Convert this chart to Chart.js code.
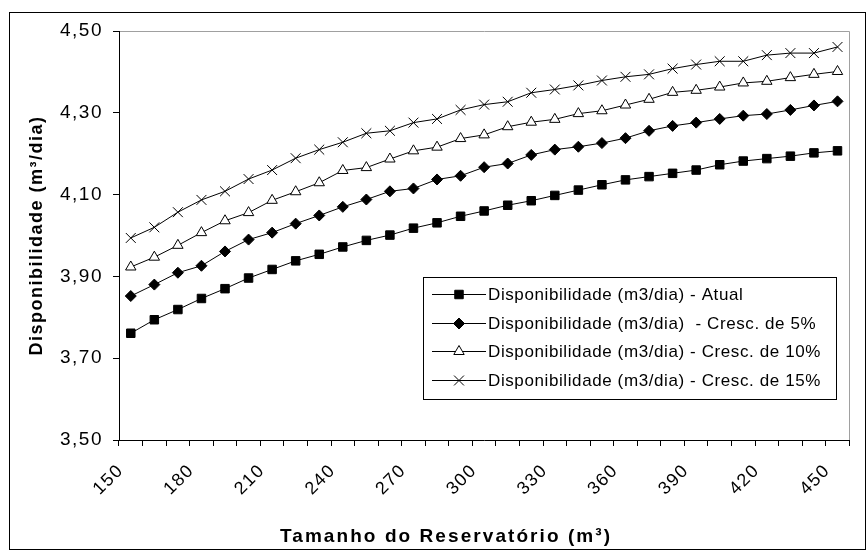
<!DOCTYPE html>
<html>
<head>
<meta charset="utf-8">
<script src="https://cdn.jsdelivr.net/npm/chart.js@4/dist/chart.umd.min.js"></script>
<style>
  html, body { margin: 0; padding: 0; background: #fff; }
  #wrap { position: relative; width: 867px; height: 551px; }
</style>
</head>
<body>
<div id="wrap"><canvas id="c" width="867" height="551"></canvas></div>
<script>
const categories = [150,160,170,180,190,200,210,220,230,240,250,260,270,280,290,300,310,320,330,340,350,360,370,380,390,400,410,420,430,440,450];
const atual   = [3.761,3.794,3.819,3.846,3.870,3.896,3.917,3.938,3.954,3.972,3.988,4.001,4.018,4.031,4.047,4.060,4.074,4.085,4.098,4.111,4.124,4.136,4.144,4.152,4.160,4.173,4.182,4.188,4.194,4.202,4.207];
const cresc5  = [3.852,3.880,3.909,3.926,3.961,3.990,4.007,4.029,4.049,4.070,4.088,4.108,4.115,4.137,4.146,4.167,4.176,4.197,4.210,4.217,4.226,4.238,4.256,4.268,4.276,4.285,4.293,4.297,4.307,4.318,4.328];
const cresc10 = [3.923,3.947,3.976,4.007,4.036,4.056,4.086,4.107,4.129,4.159,4.166,4.187,4.207,4.216,4.237,4.246,4.266,4.277,4.284,4.298,4.305,4.319,4.333,4.350,4.355,4.363,4.373,4.377,4.386,4.394,4.401];
const cresc15 = [3.994,4.020,4.057,4.087,4.108,4.138,4.160,4.189,4.210,4.228,4.250,4.256,4.276,4.285,4.307,4.320,4.327,4.349,4.357,4.367,4.379,4.388,4.394,4.408,4.418,4.426,4.426,4.441,4.446,4.446,4.461];
const seriesNames = [
  'Disponibilidade (m3/dia) - Atual',
  'Disponibilidade (m3/dia)  - Cresc. de 5%',
  'Disponibilidade (m3/dia) - Cresc. de 10%',
  'Disponibilidade (m3/dia) - Cresc. de 15%'
];
const xTickLabels = ['150','180','210','240','270','300','330','360','390','420','450'];
const yMin = 3.5, yMax = 4.5, yStep = 0.2;
const xTitle = 'Tamanho do Reservatório (m³)';
const yTitle = 'Disponibilidade (m³/dia)';

const FONT = "'Liberation Sans', Arial, sans-serif";

const styles = [
  { pointStyle: 'rect',     radius: 6,   bg: '#000' },
  { pointStyle: 'rectRot',  radius: 5.5, bg: '#000' },
  { pointStyle: 'triangle', radius: 6,   bg: '#fff' },
  { pointStyle: 'crossRot', radius: 7,   bg: '#000' }
];
const seriesData = [atual, cresc5, cresc10, cresc15];

const datasets = seriesData.map((d, i) => ({
  label: seriesNames[i],
  data: d,
  borderColor: '#000',
  borderWidth: 1,
  backgroundColor: styles[i].bg,
  pointStyle: styles[i].pointStyle,
  pointRadius: styles[i].radius,
  pointBackgroundColor: styles[i].bg,
  pointBorderColor: '#000',
  pointBorderWidth: 1,
  tension: 0,
  fill: false
}));

const frameAndBorder = {
  id: 'frameAndBorder',
  beforeDraw(chart) {
    const ctx = chart.ctx;
    const a = chart.chartArea;
    ctx.save();
    ctx.fillStyle = '#fff';
    ctx.fillRect(0, 0, chart.width, chart.height);
    ctx.strokeStyle = '#000';
    ctx.lineWidth = 1;
    ctx.strokeRect(9.5, 12.5, 856, 537);
    ctx.strokeStyle = '#a0a0a0';
    ctx.beginPath();
    ctx.moveTo(Math.round(a.left) + 0.5, Math.round(a.top) + 0.5);
    ctx.lineTo(Math.round(a.right) + 0.5, Math.round(a.top) + 0.5);
    ctx.lineTo(Math.round(a.right) + 0.5, Math.round(a.bottom) + 0.5);
    ctx.stroke();
    ctx.restore();
    try { ctx.letterSpacing = '1.5px'; } catch (e) {}
  }
};

const extras = {
  id: 'extras',
  afterDraw(chart) {
    const ctx = chart.ctx;
    // x axis title (centred on the whole chart frame, as in the original)
    ctx.save();
    ctx.fillStyle = '#000';
    ctx.font = 'bold 19px ' + FONT;
    ctx.textAlign = 'left';
    ctx.textBaseline = 'alphabetic';
    try { ctx.letterSpacing = '0px'; } catch (e) {}
    const w0 = ctx.measureText(xTitle).width;
    const n = [...xTitle].length;
    const targetW = 332;
    const sp = Math.max(0, (targetW - w0) / n);
    try { ctx.letterSpacing = sp.toFixed(2) + 'px'; } catch (e) {}
    ctx.fillText(xTitle, 446 - targetW / 2, 542);
    ctx.restore();

    // legend box
    const bx = 423.5, by = 277.5, bw = 413, bh = 122;
    ctx.save();
    ctx.fillStyle = '#fff';
    ctx.fillRect(bx, by, bw, bh);
    ctx.strokeStyle = '#000';
    ctx.lineWidth = 1;
    ctx.strokeRect(bx, by, bw, bh);
    const rows = [294, 323, 351, 380];
    chart.data.datasets.forEach((ds, i) => {
      const y = rows[i];
      ctx.strokeStyle = '#000';
      ctx.lineWidth = 1;
      ctx.beginPath();
      ctx.moveTo(432, y + 0.5);
      ctx.lineTo(486, y + 0.5);
      ctx.stroke();
      ctx.fillStyle = styles[i].bg;
      ctx.strokeStyle = '#000';
      Chart.helpers.drawPoint(ctx, { pointStyle: styles[i].pointStyle, rotation: 0, radius: styles[i].radius, borderWidth: 1 }, 459, y + 0.5);
      ctx.fillStyle = '#000';
      ctx.font = '17px ' + FONT;
      ctx.textAlign = 'left';
      ctx.textBaseline = 'middle';
      try { ctx.letterSpacing = '0.6px'; } catch (e) {}
      ctx.fillText(ds.label, 488, y + 1);
    });
    ctx.restore();
    try { ctx.letterSpacing = '0px'; } catch (e) {}
  }
};

new Chart(document.getElementById('c'), {
  type: 'line',
  data: { labels: categories.map(String), datasets },
  plugins: [frameAndBorder, extras],
  options: {
    responsive: false,
    animation: false,
    events: [],
    layout: { padding: { left: 0, top: 31, right: 14, bottom: 0 } },
    plugins: { legend: { display: false }, tooltip: { enabled: false } },
    scales: {
      x: {
        type: 'category',
        offset: true,
        grid: { offset: true, drawOnChartArea: false, drawTicks: true, tickLength: 6, color: '#000' },
        border: { color: '#000', width: 1 },
        ticks: {
          autoSkip: false, maxRotation: 45, minRotation: 45, color: '#000', padding: 14, labelOffset: -10,
          font: { family: FONT, size: 18 },
          callback: (v, i) => xTickLabels.includes(String(categories[i])) ? String(categories[i]) : ''
        },
        title: { display: false },
        afterFit: s => { s.height = 111; }
      },
      y: {
        min: yMin, max: yMax,
        grid: { drawOnChartArea: false, drawTicks: true, tickLength: 6, color: '#000' },
        border: { color: '#000', width: 1 },
        ticks: {
          stepSize: yStep, color: '#000', padding: 10,
          font: { family: FONT, size: 19 },
          callback: v => Number(v).toFixed(2).replace('.', ',')
        },
        title: { display: true, text: yTitle, color: '#000', font: { family: FONT, size: 18, weight: 'bold' }, padding: { top: 26, bottom: 0 } },
        afterFit: s => { s.width = 119; }
      }
    }
  }
});
</script>
</body>
</html>
